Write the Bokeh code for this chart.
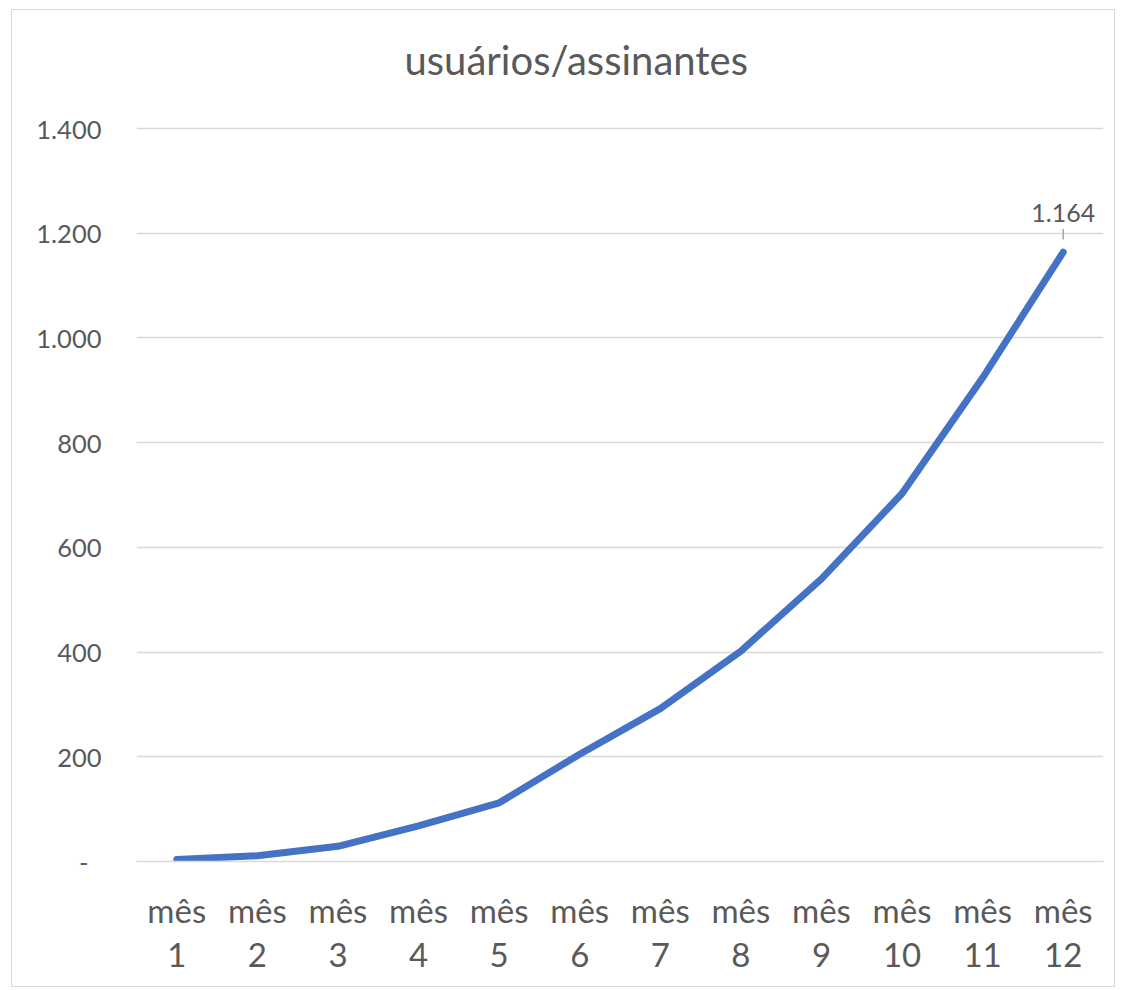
from bokeh.plotting import figure
from bokeh.models import FactorRange, Range1d, FixedTicker, ColumnDataSource, Title
from bokeh.core.properties import value
from bokeh.embed import file_html
from bokeh.resources import INLINE

title_text = "usuários/assinantes"
months = ["mês\n1", "mês\n2", "mês\n3", "mês\n4", "mês\n5", "mês\n6",
          "mês\n7", "mês\n8", "mês\n9", "mês\n10", "mês\n11", "mês\n12"]
users = [4, 11, 29, 68, 112, 205, 292, 402, 540, 703, 924, 1164]
y_ticks = [0, 200, 400, 600, 800, 1000, 1200, 1400]
y_tick_labels = ["-  ", "200", "400", "600", "800", "1.000", "1.200", "1.400"]
last_label = "1.164"

FONT = "Lato"
TXT = "#595959"
GRID = "#d9d9d9"
BLUE = "#4472C4"

p = figure(
    x_range=FactorRange(*months), y_range=Range1d(0, 1404),
    width=1102, height=976, frame_width=967, frame_height=735,
    min_border_left=124, min_border_right=11, min_border_top=116, min_border_bottom=125,
    output_backend="svg", toolbar_location=None,
)
p.styles = {"border": "1px solid #d9d9d9", "margin-left": "11px", "margin-top": "9px"}
p.outline_line_color = None
p.background_fill_color = "white"
p.border_fill_color = "white"

# spacer (nearest the frame) then the title itself
spacer = Title(text=" ", text_font_size="1px", standoff=40)
p.add_layout(spacer, "above")
t = Title(text=title_text, align="left", offset=268, text_font=FONT, text_font_size="40px",
          text_color=TXT, text_font_style="normal", standoff=0)
p.add_layout(t, "above")

p.xgrid.grid_line_color = None
p.ygrid.grid_line_color = GRID
p.ygrid.grid_line_width = 1.5
p.ygrid.ticker = FixedTicker(ticks=y_ticks)

p.yaxis.ticker = FixedTicker(ticks=y_ticks)
p.yaxis.major_label_overrides = {t_: l for t_, l in zip(y_ticks, y_tick_labels)}
p.yaxis.axis_line_color = None
p.yaxis.major_tick_line_color = None
p.yaxis.minor_tick_line_color = None
p.yaxis.major_label_text_font = FONT
p.yaxis.major_label_text_font_size = "25.5px"
p.yaxis.major_label_text_color = TXT
p.yaxis.major_label_standoff = 29

p.xaxis.axis_line_color = GRID
p.xaxis.axis_line_width = 1.5
p.xaxis.major_tick_line_color = None
p.xaxis.minor_tick_line_color = None
p.xaxis.major_label_text_font = FONT
p.xaxis.major_label_text_font_size = "33px"
p.xaxis.major_label_text_color = TXT
p.xaxis.major_label_text_line_height = 1.12
p.xaxis.major_label_standoff = 22

src = ColumnDataSource(dict(x=months, y=users))
p.line("x", "y", source=src, line_color=BLUE, line_width=7,
       line_join="round", line_cap="round")

# leader line and data label for last point
lv = users[-1]
p.segment(x0=[months[-1]], y0=[lv + 24], x1=[months[-1]], y1=[lv + 44],
          line_color="#a6a6a6", line_width=1.5)
p.text(x=[months[-1]], y=[lv + 58], text=[last_label], text_font=value(FONT),
       text_font_size="25px", text_color=TXT, text_align="center",
       text_baseline="bottom")

open("out.html", "w").write(file_html(p, INLINE))
